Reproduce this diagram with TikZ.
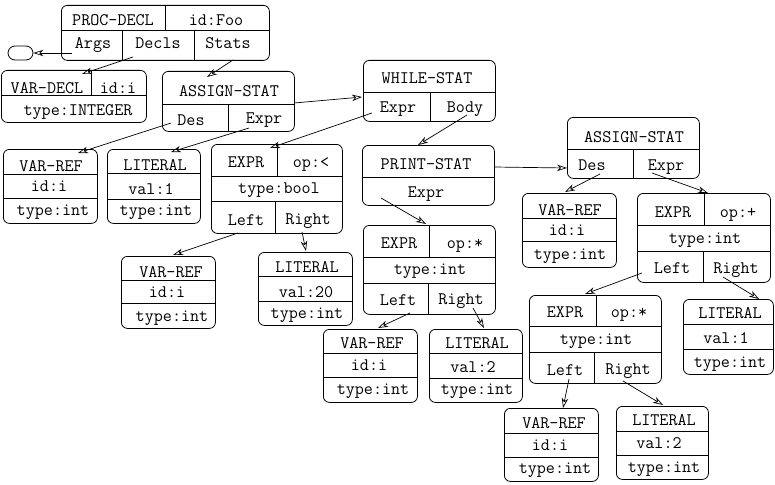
\documentclass[tikz,border=0pt]{standalone}
\usetikzlibrary{arrows.meta}
\tikzset{
  box/.style={draw, line width=0.8pt, rounded corners=6pt, inner sep=0pt},
  term/.style={draw, line width=0.8pt, rounded corners=7pt, inner sep=0pt, minimum width=25pt, minimum height=14pt},
  div/.style={line width=0.8pt},
  lbl/.style={font=\fontsize{17.6}{20}\selectfont\ttfamily, anchor=base, inner sep=0pt},
  link/.style={line width=0.7pt, -{Stealth[open,length=10pt,width=6.5pt,inset=3pt]}},
}
\newcommand\ABox[5]{%
  \pgfmathsetmacro\abw{#4-#2}%
  \pgfmathsetmacro\abh{#5-#3}%
  \node[box, anchor=north west, minimum width=\abw pt, minimum height=\abh pt] (#1) at (#2,#3) {};}
\begin{document}
\begin{tikzpicture}[x=1pt,y=-1pt]
\useasboundingbox (0,0) rectangle (775,484);

% PROC-DECL
\ABox{pd}{61}{5}{269}{60}
\draw[div] (61,30) -- (269,30) (165,5) -- (165,30) (122,30) -- (122,60) (194,30) -- (194,60);
\node[lbl] (pd1) at (113,26) {PROC-DECL};
\node[lbl] (pd2) at (216,26) {id:Foo};
\node[lbl] (pd3) at (93,49) {Args};
\node[lbl] (pd4) at (158,49) {Decls};
\node[lbl] (pd5) at (228,49) {Stats};
\node[term] (term) at (20.5,53) {};

% VAR-DECL
\ABox{vd}{1}{70}{146}{122}
\draw[div] (1,95) -- (146,95) (91,70) -- (91,95);
\node[lbl] (vd1) at (47,94) {VAR-DECL};
\node[lbl] (vd2) at (118,94) {id:i};
\node[lbl] (vd3) at (78,115) {type:INTEGER};

% ASSIGN-STAT 1
\ABox{as1}{162}{71}{294}{131}
\draw[div] (162,104) -- (294,104) (228,104) -- (228,131);
\node[lbl] (as1a) at (229,97) {ASSIGN-STAT};
\node[lbl] (as1b) at (191,125) {Des};
\node[lbl] (as1c) at (264,124) {Expr};

% WHILE-STAT
\ABox{ws}{363}{60}{495}{121}
\draw[div] (363,92) -- (495,92) (430,92) -- (430,121);
\node[lbl] (ws1) at (427,84) {WHILE-STAT};
\node[lbl] (ws2) at (398,113) {Expr};
\node[lbl] (ws3) at (465,113) {Body};

% PRINT-STAT
\ABox{ps}{362}{145}{494}{205}
\draw[div] (362,177) -- (494,177);
\node[lbl] (ps1) at (426,169) {PRINT-STAT};
\node[lbl] (ps2) at (426,197) {Expr};

% ASSIGN-STAT 2
\ABox{as2}{567}{117}{699}{178}
\draw[div] (567,149) -- (699,149) (633,149) -- (633,178);
\node[lbl] (as2a) at (634,142) {ASSIGN-STAT};
\node[lbl] (as2b) at (592,170) {Des};
\node[lbl] (as2c) at (666,170) {Expr};

% VAR-REF A
\ABox{vrA}{3}{149}{97}{223}
\draw[div] (3,174) -- (97,174) (3,198) -- (97,198);
\node[lbl] (vrA1) at (51,171) {VAR-REF};
\node[lbl] (vrA2) at (49,191) {id:i};
\node[lbl] (vrA3) at (53,215) {type:int};

% LITERAL 1
\ABox{lit1}{107}{149}{200}{223}
\draw[div] (107,173) -- (200,173) (107,199) -- (200,199);
\node[lbl] (lit1a) at (155,170) {LITERAL};
\node[lbl] (lit1b) at (151,194) {val:1};
\node[lbl] (lit1c) at (156,215) {type:int};

% EXPR op:<
\ABox{e1}{211}{144}{342}{233}
\draw[div] (211,176) -- (342,176) (211,201) -- (342,201) (277,144) -- (277,176) (275,201) -- (275,233);
\node[lbl] (e1a) at (246,167) {EXPR};
\node[lbl] (e1b) at (311,167) {op:<};
\node[lbl] (e1c) at (279,193) {type:bool};
\node[lbl] (e1d) at (246,225) {Left};
\node[lbl] (e1e) at (308,224) {Right};

% VAR-REF B
\ABox{vrB}{121}{256}{215}{328}
\draw[div] (121,280) -- (215,280) (121,303) -- (215,303);
\node[lbl] (vrB1) at (171,277) {VAR-REF};
\node[lbl] (vrB2) at (167,297) {id:i};
\node[lbl] (vrB3) at (172,321) {type:int};

% LITERAL 2
\ABox{lit2}{258}{252}{352}{325}
\draw[div] (258,276) -- (352,276) (258,301) -- (352,301);
\node[lbl] (lit2a) at (307,272) {LITERAL};
\node[lbl] (lit2b) at (306,297) {val:20};
\node[lbl] (lit2c) at (307,318) {type:int};

% EXPR op:* (middle)
\ABox{e2}{363}{225}{495}{314}
\draw[div] (363,257) -- (495,257) (363,283) -- (495,283) (429,225) -- (429,257) (428,283) -- (428,314);
\node[lbl] (e2a) at (399,248) {EXPR};
\node[lbl] (e2b) at (465,248) {op:*};
\node[lbl] (e2c) at (430,274) {type:int};
\node[lbl] (e2d) at (398,305) {Left};
\node[lbl] (e2e) at (461,304) {Right};

% VAR-REF C
\ABox{vrC}{323}{329}{417}{402}
\draw[div] (323,353) -- (417,353) (323,377) -- (417,377);
\node[lbl] (vrC1) at (372,348) {VAR-REF};
\node[lbl] (vrC2) at (369,370) {id:i};
\node[lbl] (vrC3) at (373,394) {type:int};

% LITERAL 3
\ABox{lit3}{429}{329}{522}{402}
\draw[div] (429,353) -- (522,353) (429,378) -- (522,378);
\node[lbl] (lit3a) at (477,348) {LITERAL};
\node[lbl] (lit3b) at (473,372) {val:2};
\node[lbl] (lit3c) at (477,394) {type:int};

% VAR-REF D
\ABox{vrD}{522}{193}{616}{267}
\draw[div] (522,218) -- (616,218) (522,241) -- (616,241);
\node[lbl] (vrD1) at (570,215) {VAR-REF};
\node[lbl] (vrD2) at (567,235) {id:i};
\node[lbl] (vrD3) at (570,259) {type:int};

% EXPR op:+
\ABox{e3}{637}{193}{770}{282}
\draw[div] (637,225) -- (770,225) (637,251) -- (770,251) (704,193) -- (704,225) (703,251) -- (703,282);
\node[lbl] (e3a) at (673,217) {EXPR};
\node[lbl] (e3b) at (738,217) {op:+};
\node[lbl] (e3c) at (705,243) {type:int};
\node[lbl] (e3d) at (672,273) {Left};
\node[lbl] (e3e) at (736,273) {Right};

% LITERAL 4
\ABox{lit4}{683}{299}{773}{374}
\draw[div] (683,324) -- (773,324) (683,349) -- (773,349);
\node[lbl] (lit4a) at (730,318) {LITERAL};
\node[lbl] (lit4b) at (726,343) {val:1};
\node[lbl] (lit4c) at (730,367) {type:int};

% EXPR op:* (lower)
\ABox{e4}{529}{295}{661}{383}
\draw[div] (529,326) -- (661,326) (529,352) -- (661,352) (596,295) -- (596,326) (594,352) -- (594,383);
\node[lbl] (e4a) at (565,317) {EXPR};
\node[lbl] (e4b) at (629,317) {op:*};
\node[lbl] (e4c) at (596,344) {type:int};
\node[lbl] (e4d) at (565,375) {Left};
\node[lbl] (e4e) at (628,374) {Right};

% VAR-REF E
\ABox{vrE}{504}{408}{598}{481}
\draw[div] (504,433) -- (598,433) (504,457) -- (598,457);
\node[lbl] (vrE1) at (554,428) {VAR-REF};
\node[lbl] (vrE2) at (550,450) {id:i};
\node[lbl] (vrE3) at (555,473) {type:int};

% LITERAL 5
\ABox{lit5}{616}{406}{708}{479}
\draw[div] (616,431) -- (708,431) (616,455) -- (708,455);
\node[lbl] (lit5a) at (664,425) {LITERAL};
\node[lbl] (lit5b) at (659,448) {val:2};
\node[lbl] (lit5c) at (664,472) {type:int};

% connector end points
\coordinate (pdArgs) at (72,53);
\coordinate (pdDecls) at (133,57);
\coordinate (pdStats) at (233,60);
\coordinate (vdIn) at (82,74);
\coordinate (as1In) at (207,77);
\coordinate (as1Out) at (294,103);
\coordinate (wsIn) at (362,97);
\coordinate (as1Des) at (171,123);
\coordinate (vrAIn) at (78,153);
\coordinate (as1Expr) at (249,128);
\coordinate (lit1In) at (171,152);
\coordinate (wsExpr) at (372,113);
\coordinate (e1In) at (270,148);
\coordinate (wsBody) at (467,115);
\coordinate (psIn) at (418,145);
\coordinate (psOut) at (494,167);
\coordinate (as2In) at (567,168);
\coordinate (psExpr) at (381,198);
\coordinate (e2In) at (426,224);
\coordinate (as2Des) at (600,174);
\coordinate (vrDIn) at (565,192);
\coordinate (as2Expr) at (652,173);
\coordinate (e3In) at (708,193);
\coordinate (e1Left) at (238,233);
\coordinate (vrBIn) at (173,255);
\coordinate (e1Right) at (302,232);
\coordinate (lit2In) at (306,251);
\coordinate (e2Left) at (410,313);
\coordinate (vrCIn) at (378,328);
\coordinate (e2Right) at (473,308);
\coordinate (lit3In) at (484,328);
\coordinate (e3Left) at (642,273);
\coordinate (e4In) at (585,294);
\coordinate (e3Right) at (723,277);
\coordinate (lit4In) at (759,299);
\coordinate (e4Left) at (569,379);
\coordinate (vrEIn) at (563,408);
\coordinate (e4Right) at (623,381);
\coordinate (lit5In) at (663,405);

% connectors
\draw[link] (pdArgs) -- (term);
\draw[link] (pdDecls) -- (vdIn);
\draw[link] (pdStats) -- (as1In);
\draw[link] (as1Out) -- (wsIn);
\draw[link] (as1Des) -- (vrAIn);
\draw[link] (as1Expr) -- (lit1In);
\draw[link] (wsExpr) -- (e1In);
\draw[link] (wsBody) -- (psIn);
\draw[link] (psOut) -- (as2In);
\draw[link] (psExpr) -- (e2In);
\draw[link] (as2Des) -- (vrDIn);
\draw[link] (as2Expr) -- (e3In);
\draw[link] (e1Left) -- (vrBIn);
\draw[link] (e1Right) -- (lit2In);
\draw[link] (e2Left) -- (vrCIn);
\draw[link] (e2Right) -- (lit3In);
\draw[link] (e3Left) -- (e4In);
\draw[link] (e3Right) -- (lit4In);
\draw[link] (e4Left) -- (vrEIn);
\draw[link] (e4Right) -- (lit5In);
\end{tikzpicture}
\end{document}
